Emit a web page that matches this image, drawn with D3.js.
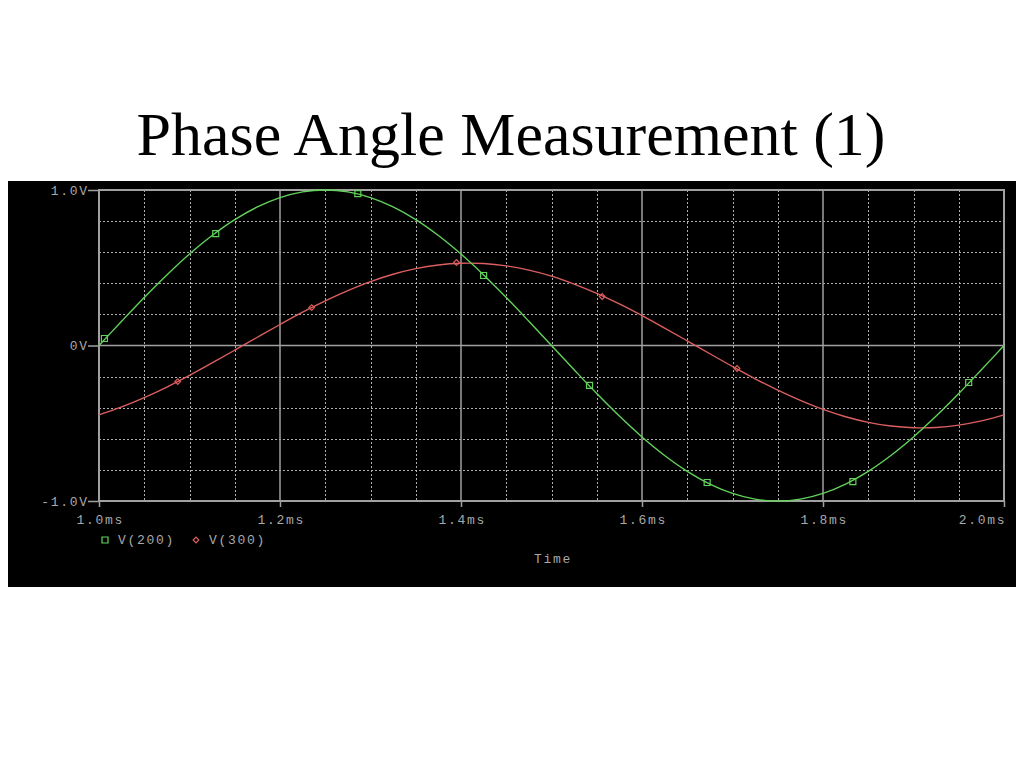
<!DOCTYPE html>
<html>
<head>
<meta charset="utf-8">
<script src="https://cdn.jsdelivr.net/npm/d3@7"></script>
<style>
  html, body { margin: 0; padding: 0; background: #ffffff; }
  svg { display: block; }
  .mono { font-family: "Liberation Mono", "DejaVu Sans Mono", monospace; font-size: 13px; letter-spacing: 1.7px; fill: #a8a8a8; }
</style>
</head>
<body>
<svg id="chart" width="1024" height="768"></svg>
<script>
// ---- data ----
const timeMs = [1.000,1.025,1.050,1.075,1.100,1.125,1.150,1.175,1.200,1.225,
                1.250,1.275,1.300,1.325,1.350,1.375,1.400,1.425,1.450,1.475,
                1.500,1.525,1.550,1.575,1.600,1.625,1.650,1.675,1.700,1.725,
                1.750,1.775,1.800,1.825,1.850,1.875,1.900,1.925,1.950,1.975,2.000];
const v200 = [0.000,0.156,0.309,0.454,0.588,0.707,0.809,0.891,0.951,0.988,
              1.000,0.988,0.951,0.891,0.809,0.707,0.588,0.454,0.309,0.156,
              0.000,-0.156,-0.309,-0.454,-0.588,-0.707,-0.809,-0.891,-0.951,-0.988,
              -1.000,-0.988,-0.951,-0.891,-0.809,-0.707,-0.588,-0.454,-0.309,-0.156,0.000];
const v300 = [-0.446,-0.395,-0.335,-0.267,-0.192,-0.112,-0.030,0.053,0.135,0.214,
              0.287,0.353,0.411,0.458,0.494,0.518,0.529,0.527,0.512,0.485,
              0.446,0.395,0.335,0.267,0.192,0.112,0.030,-0.053,-0.135,-0.214,
              -0.287,-0.353,-0.411,-0.458,-0.494,-0.518,-0.529,-0.527,-0.512,-0.485,-0.446];
const v200MarkerT = [1.006,1.129,1.286,1.425,1.542,1.672,1.833,1.961];
const v200MarkerV = [0.045,0.720,0.977,0.450,-0.257,-0.881,-0.875,-0.238];
const v300MarkerT = [1.087,1.235,1.395,1.556,1.705];
const v300MarkerV = [-0.232,0.244,0.534,0.315,-0.148];
const xTicks = [1.0,1.2,1.4,1.6,1.8,2.0];
const xTickLabels = ["1.0ms","1.2ms","1.4ms","1.6ms","1.8ms","2.0ms"];
const yTicks = [1.0,0,-1.0];
const yTickLabels = ["1.0V","0V","-1.0V"];
const seriesNames = ["V(200)","V(300)"];
const title = "Phase Angle Measurement (1)";
const xTitle = "Time";

// ---- drawing ----
const svg = d3.select("#chart");
const green = "#62d25a", red = "#dc5f5f", grid = "#b0b0b0", frame = "#a0a0a0";

svg.append("text").attr("x", 511).attr("y", 155).attr("text-anchor", "middle")
  .attr("font-family", "'Liberation Serif','Times New Roman',serif").attr("font-size", 62)
  .attr("fill", "#000").text(title);

svg.append("rect").attr("x", 8).attr("y", 181).attr("width", 1008).attr("height", 406).attr("fill", "#000");

const x = d3.scaleLinear().domain([1.0, 2.0]).range([99, 1004]);
const y = d3.scaleLinear().domain([-1, 1]).range([501, 190]);

// minor grid (dotted)
const xMinor = d3.range(1.05, 2.0, 0.05).filter(v => Math.abs(v*5 - Math.round(v*5)) > 1e-6);
const yMinor = [-0.8,-0.6,-0.4,-0.2,0.2,0.4,0.6,0.8];
const g = svg.append("g");
g.selectAll("line.vx").data(xMinor).join("line")
  .attr("x1", d => Math.round(x(d)) + 0.5).attr("x2", d => Math.round(x(d)) + 0.5)
  .attr("y1", y(1)).attr("y2", y(-1))
  .attr("stroke", grid).attr("stroke-width", 1).attr("stroke-dasharray", "2,2");
g.selectAll("line.hy").data(yMinor).join("line")
  .attr("x1", x(1)).attr("x2", x(2))
  .attr("y1", d => Math.round(y(d)) + 0.5).attr("y2", d => Math.round(y(d)) + 0.5)
  .attr("stroke", grid).attr("stroke-width", 1).attr("stroke-dasharray", "2,2");
// major grid (solid)
g.selectAll("line.mx").data([1.2,1.4,1.6,1.8]).join("line")
  .attr("x1", d => x(d)).attr("x2", d => x(d)).attr("y1", y(1)).attr("y2", y(-1))
  .attr("stroke", frame).attr("stroke-width", 1.5);
g.append("line").attr("x1", x(1)).attr("x2", x(2)).attr("y1", y(0)).attr("y2", y(0))
  .attr("stroke", frame).attr("stroke-width", 1.5);
g.append("rect").attr("x", x(1)).attr("y", y(1)).attr("width", x(2)-x(1)).attr("height", y(-1)-y(1))
  .attr("fill", "none").attr("stroke", frame).attr("stroke-width", 2);

// axes
const xAxis = d3.axisBottom(x).tickValues(xTicks).tickSize(6).tickPadding(8)
  .tickFormat((d, i) => xTickLabels[i]);
const gx = svg.append("g").attr("transform", `translate(0,${y(-1)})`).call(xAxis);
gx.select(".domain").remove();
gx.selectAll(".tick line").attr("stroke", frame).attr("stroke-width", 1.5);
gx.selectAll(".tick text").attr("class", "mono").attr("font-family", null).attr("font-size", null)
  .attr("fill", null)
  .attr("text-anchor", (d, i) => i === xTicks.length - 1 ? "end" : "middle")
  .attr("dx", (d, i) => i === xTicks.length - 1 ? "1.7" : "0.85");

const yAxis = d3.axisLeft(y).tickValues(yTicks).tickSize(11).tickPadding(1)
  .tickFormat((d, i) => yTickLabels[i]);
const gy = svg.append("g").attr("transform", `translate(${x(1)},0)`).call(yAxis);
gy.select(".domain").remove();
gy.selectAll(".tick line").attr("stroke", frame).attr("stroke-width", 1.5);
gy.selectAll(".tick text").attr("class", "mono").attr("font-family", null).attr("font-size", null)
  .attr("fill", null).attr("dx", "1.7");

// lines
const pts200 = timeMs.map((t, i) => [t, v200[i]]);
const pts300 = timeMs.map((t, i) => [t, v300[i]]);
const line = d3.line().x(d => x(d[0])).y(d => y(d[1])).curve(d3.curveCatmullRom);
svg.append("path").attr("d", line(pts300)).attr("fill", "none").attr("stroke", red).attr("stroke-width", 1.4);
svg.append("path").attr("d", line(pts200)).attr("fill", "none").attr("stroke", green).attr("stroke-width", 1.4);

// markers
const sq = d3.symbol().type(d3.symbolSquare).size(36);
const dm = d3.symbol().type(d3.symbolSquare).size(16);
svg.selectAll("path.m200").data(v200MarkerT).join("path")
  .attr("transform", (t, i) => `translate(${x(t)},${y(v200MarkerV[i])})`)
  .attr("d", sq).attr("fill", "none").attr("stroke", green).attr("stroke-width", 1.2);
svg.selectAll("path.m300").data(v300MarkerT).join("path")
  .attr("transform", (t, i) => `translate(${x(t)},${y(v300MarkerV[i])}) rotate(45)`)
  .attr("d", dm).attr("fill", "none").attr("stroke", red).attr("stroke-width", 1.2);

// legend
svg.append("path").attr("transform", "translate(105,540)").attr("d", sq).attr("fill", "none")
  .attr("stroke", green).attr("stroke-width", 1.2);
svg.append("text").attr("class", "mono").attr("x", 118).attr("y", 544).text(seriesNames[0]);
svg.append("path").attr("transform", "translate(196,540) rotate(45)").attr("d", dm).attr("fill", "none")
  .attr("stroke", red).attr("stroke-width", 1.2);
svg.append("text").attr("class", "mono").attr("x", 209).attr("y", 544).text(seriesNames[1]);

// x title
svg.append("text").attr("class", "mono").attr("x", 553).attr("y", 563).attr("text-anchor", "middle").text(xTitle);
</script>
</body>
</html>
